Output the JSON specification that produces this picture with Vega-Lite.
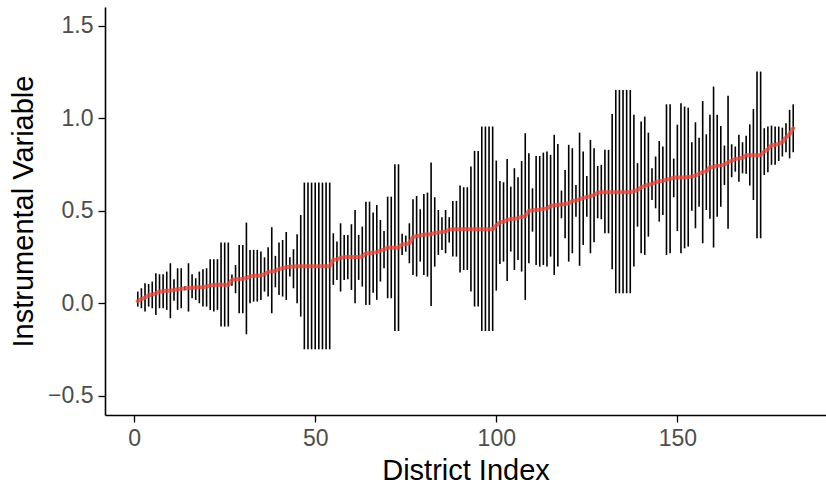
{
  "$schema": "https://vega.github.io/schema/vega-lite/v6.json",
  "width": 721,
  "height": 408,
  "autosize": {"type": "none"},
  "padding": {"left": 105, "top": 7, "right": 0, "bottom": 69},
  "background": "white",
  "config": {
    "font": "Liberation Sans",
    "view": {"stroke": null},
    "axis": {
      "grid": false,
      "domainColor": "black",
      "domainWidth": 1.6,
      "tickColor": "black",
      "tickWidth": 1.3,
      "tickSize": 7,
      "labelFont": "Liberation Sans",
      "labelFontSize": 23,
      "labelColor": "#4d4d4d",
      "titleFont": "Liberation Sans",
      "titleFontSize": 29,
      "titleFontWeight": "normal",
      "titleColor": "black"
    }
  },
  "data": {"values": [
    {"i":1,"c":0.012,"lo":-0.018,"hi":0.063},
    {"i":2,"c":0.022,"lo":-0.027,"hi":0.081},
    {"i":3,"c":0.031,"lo":-0.045,"hi":0.108},
    {"i":4,"c":0.042,"lo":-0.018,"hi":0.104},
    {"i":5,"c":0.047,"lo":-0.027,"hi":0.117},
    {"i":6,"c":0.053,"lo":-0.063,"hi":0.162},
    {"i":7,"c":0.062,"lo":-0.027,"hi":0.157},
    {"i":8,"c":0.065,"lo":-0.027,"hi":0.157},
    {"i":9,"c":0.067,"lo":-0.036,"hi":0.171},
    {"i":10,"c":0.069,"lo":-0.081,"hi":0.216},
    {"i":11,"c":0.072,"lo":0.014,"hi":0.13},
    {"i":12,"c":0.076,"lo":-0.036,"hi":0.189},
    {"i":13,"c":0.078,"lo":-0.027,"hi":0.189},
    {"i":14,"c":0.08,"lo":0.07,"hi":0.092},
    {"i":15,"c":0.082,"lo":-0.045,"hi":0.216},
    {"i":16,"c":0.084,"lo":0.027,"hi":0.157},
    {"i":17,"c":0.085,"lo":0.018,"hi":0.135},
    {"i":18,"c":0.086,"lo":0.0,"hi":0.171},
    {"i":19,"c":0.087,"lo":-0.018,"hi":0.184},
    {"i":20,"c":0.09,"lo":-0.018,"hi":0.189},
    {"i":21,"c":0.096,"lo":-0.036,"hi":0.238},
    {"i":22,"c":0.098,"lo":-0.045,"hi":0.238},
    {"i":23,"c":0.1,"lo":-0.036,"hi":0.238},
    {"i":24,"c":0.1,"lo":-0.126,"hi":0.328},
    {"i":25,"c":0.1,"lo":-0.126,"hi":0.328},
    {"i":26,"c":0.1,"lo":-0.126,"hi":0.328},
    {"i":27,"c":0.125,"lo":0.095,"hi":0.155},
    {"i":28,"c":0.13,"lo":0.054,"hi":0.207},
    {"i":29,"c":0.13,"lo":-0.054,"hi":0.315},
    {"i":30,"c":0.132,"lo":-0.054,"hi":0.315},
    {"i":31,"c":0.136,"lo":-0.168,"hi":0.436},
    {"i":32,"c":0.144,"lo":0.0,"hi":0.288},
    {"i":33,"c":0.148,"lo":0.009,"hi":0.288},
    {"i":34,"c":0.149,"lo":0.009,"hi":0.288},
    {"i":35,"c":0.15,"lo":0.018,"hi":0.279},
    {"i":36,"c":0.157,"lo":0.063,"hi":0.248},
    {"i":37,"c":0.168,"lo":0.036,"hi":0.302},
    {"i":38,"c":0.172,"lo":-0.054,"hi":0.411},
    {"i":39,"c":0.175,"lo":0.086,"hi":0.256},
    {"i":40,"c":0.185,"lo":0.045,"hi":0.328},
    {"i":41,"c":0.189,"lo":0.036,"hi":0.342},
    {"i":42,"c":0.195,"lo":0.018,"hi":0.385},
    {"i":43,"c":0.197,"lo":0.144,"hi":0.248},
    {"i":44,"c":0.198,"lo":0.081,"hi":0.292},
    {"i":45,"c":0.2,"lo":0.0,"hi":0.373},
    {"i":46,"c":0.2,"lo":-0.072,"hi":0.477},
    {"i":47,"c":0.2,"lo":-0.249,"hi":0.652},
    {"i":48,"c":0.2,"lo":-0.249,"hi":0.652},
    {"i":49,"c":0.2,"lo":-0.249,"hi":0.652},
    {"i":50,"c":0.2,"lo":-0.249,"hi":0.652},
    {"i":51,"c":0.2,"lo":-0.249,"hi":0.652},
    {"i":52,"c":0.2,"lo":-0.249,"hi":0.652},
    {"i":53,"c":0.2,"lo":-0.249,"hi":0.652},
    {"i":54,"c":0.2,"lo":-0.249,"hi":0.652},
    {"i":55,"c":0.235,"lo":0.099,"hi":0.378},
    {"i":56,"c":0.237,"lo":0.126,"hi":0.333},
    {"i":57,"c":0.245,"lo":0.063,"hi":0.432},
    {"i":58,"c":0.248,"lo":0.126,"hi":0.369},
    {"i":59,"c":0.25,"lo":0.13,"hi":0.369},
    {"i":60,"c":0.25,"lo":0.072,"hi":0.427},
    {"i":61,"c":0.25,"lo":0.0,"hi":0.504},
    {"i":62,"c":0.25,"lo":0.126,"hi":0.369},
    {"i":63,"c":0.252,"lo":0.09,"hi":0.414},
    {"i":64,"c":0.27,"lo":-0.009,"hi":0.549},
    {"i":65,"c":0.27,"lo":-0.009,"hi":0.549},
    {"i":66,"c":0.274,"lo":0.057,"hi":0.49},
    {"i":67,"c":0.276,"lo":0.018,"hi":0.531},
    {"i":68,"c":0.284,"lo":0.117,"hi":0.45},
    {"i":69,"c":0.29,"lo":0.189,"hi":0.391},
    {"i":70,"c":0.3,"lo":0.027,"hi":0.576},
    {"i":71,"c":0.3,"lo":0.027,"hi":0.576},
    {"i":72,"c":0.3,"lo":-0.15,"hi":0.751},
    {"i":73,"c":0.3,"lo":-0.15,"hi":0.751},
    {"i":74,"c":0.318,"lo":0.261,"hi":0.375},
    {"i":75,"c":0.32,"lo":0.279,"hi":0.366},
    {"i":76,"c":0.324,"lo":0.216,"hi":0.432},
    {"i":77,"c":0.358,"lo":0.153,"hi":0.562},
    {"i":78,"c":0.362,"lo":0.144,"hi":0.58},
    {"i":79,"c":0.366,"lo":0.225,"hi":0.508},
    {"i":80,"c":0.371,"lo":0.153,"hi":0.591},
    {"i":81,"c":0.372,"lo":0.144,"hi":0.598},
    {"i":82,"c":0.373,"lo":-0.015,"hi":0.76},
    {"i":83,"c":0.38,"lo":0.198,"hi":0.573},
    {"i":84,"c":0.383,"lo":0.261,"hi":0.504},
    {"i":85,"c":0.385,"lo":0.288,"hi":0.465},
    {"i":86,"c":0.388,"lo":0.27,"hi":0.504},
    {"i":87,"c":0.397,"lo":0.328,"hi":0.465},
    {"i":88,"c":0.4,"lo":0.252,"hi":0.553},
    {"i":89,"c":0.4,"lo":0.252,"hi":0.553},
    {"i":90,"c":0.4,"lo":0.166,"hi":0.636},
    {"i":91,"c":0.4,"lo":0.18,"hi":0.627},
    {"i":92,"c":0.4,"lo":0.18,"hi":0.627},
    {"i":93,"c":0.4,"lo":0.063,"hi":0.739},
    {"i":94,"c":0.4,"lo":-0.018,"hi":0.823},
    {"i":95,"c":0.4,"lo":-0.018,"hi":0.823},
    {"i":96,"c":0.4,"lo":-0.15,"hi":0.955},
    {"i":97,"c":0.4,"lo":-0.15,"hi":0.955},
    {"i":98,"c":0.4,"lo":-0.15,"hi":0.955},
    {"i":99,"c":0.4,"lo":-0.15,"hi":0.955},
    {"i":100,"c":0.42,"lo":0.068,"hi":0.771},
    {"i":101,"c":0.437,"lo":0.212,"hi":0.661},
    {"i":102,"c":0.44,"lo":0.225,"hi":0.654},
    {"i":103,"c":0.45,"lo":0.12,"hi":0.78},
    {"i":104,"c":0.455,"lo":0.279,"hi":0.63},
    {"i":105,"c":0.456,"lo":0.18,"hi":0.73},
    {"i":106,"c":0.46,"lo":0.234,"hi":0.681},
    {"i":107,"c":0.467,"lo":0.171,"hi":0.769},
    {"i":108,"c":0.47,"lo":0.018,"hi":0.919},
    {"i":109,"c":0.5,"lo":0.216,"hi":0.811},
    {"i":110,"c":0.503,"lo":0.387,"hi":0.621},
    {"i":111,"c":0.504,"lo":0.207,"hi":0.796},
    {"i":112,"c":0.505,"lo":0.198,"hi":0.796},
    {"i":113,"c":0.51,"lo":0.207,"hi":0.814},
    {"i":114,"c":0.512,"lo":0.198,"hi":0.82},
    {"i":115,"c":0.525,"lo":0.252,"hi":0.802},
    {"i":116,"c":0.53,"lo":0.153,"hi":0.91},
    {"i":117,"c":0.532,"lo":0.198,"hi":0.861},
    {"i":118,"c":0.534,"lo":0.459,"hi":0.609},
    {"i":119,"c":0.536,"lo":0.351,"hi":0.72},
    {"i":120,"c":0.54,"lo":0.225,"hi":0.856},
    {"i":121,"c":0.552,"lo":0.27,"hi":0.838},
    {"i":122,"c":0.555,"lo":0.468,"hi":0.639},
    {"i":123,"c":0.562,"lo":0.202,"hi":0.922},
    {"i":124,"c":0.568,"lo":0.315,"hi":0.82},
    {"i":125,"c":0.575,"lo":0.468,"hi":0.688},
    {"i":126,"c":0.578,"lo":0.27,"hi":0.883},
    {"i":127,"c":0.585,"lo":0.33,"hi":0.838},
    {"i":128,"c":0.597,"lo":0.459,"hi":0.742},
    {"i":129,"c":0.6,"lo":0.454,"hi":0.748},
    {"i":130,"c":0.6,"lo":0.378,"hi":0.829},
    {"i":131,"c":0.6,"lo":0.378,"hi":0.829},
    {"i":132,"c":0.6,"lo":0.184,"hi":1.023},
    {"i":133,"c":0.6,"lo":0.054,"hi":1.153},
    {"i":134,"c":0.6,"lo":0.054,"hi":1.153},
    {"i":135,"c":0.6,"lo":0.054,"hi":1.153},
    {"i":136,"c":0.6,"lo":0.054,"hi":1.153},
    {"i":137,"c":0.6,"lo":0.054,"hi":1.153},
    {"i":138,"c":0.605,"lo":0.198,"hi":1.018},
    {"i":139,"c":0.612,"lo":0.414,"hi":0.757},
    {"i":140,"c":0.625,"lo":0.27,"hi":0.982},
    {"i":141,"c":0.635,"lo":0.261,"hi":1.009},
    {"i":142,"c":0.641,"lo":0.36,"hi":0.922},
    {"i":143,"c":0.644,"lo":0.558,"hi":0.73},
    {"i":144,"c":0.653,"lo":0.513,"hi":0.793},
    {"i":145,"c":0.659,"lo":0.441,"hi":0.877},
    {"i":146,"c":0.662,"lo":0.477,"hi":0.847},
    {"i":147,"c":0.668,"lo":0.261,"hi":1.075},
    {"i":148,"c":0.672,"lo":0.27,"hi":1.075},
    {"i":149,"c":0.678,"lo":0.573,"hi":0.782},
    {"i":150,"c":0.68,"lo":0.39,"hi":0.965},
    {"i":151,"c":0.68,"lo":0.27,"hi":1.081},
    {"i":152,"c":0.68,"lo":0.297,"hi":1.063},
    {"i":153,"c":0.682,"lo":0.306,"hi":1.057},
    {"i":154,"c":0.685,"lo":0.5,"hi":0.87},
    {"i":155,"c":0.69,"lo":0.405,"hi":0.978},
    {"i":156,"c":0.7,"lo":0.522,"hi":0.895},
    {"i":157,"c":0.71,"lo":0.324,"hi":1.093},
    {"i":158,"c":0.712,"lo":0.504,"hi":0.913},
    {"i":159,"c":0.735,"lo":0.456,"hi":1.018},
    {"i":160,"c":0.737,"lo":0.301,"hi":1.171},
    {"i":161,"c":0.743,"lo":0.468,"hi":1.018},
    {"i":162,"c":0.745,"lo":0.522,"hi":0.958},
    {"i":163,"c":0.75,"lo":0.639,"hi":0.852},
    {"i":164,"c":0.762,"lo":0.402,"hi":1.122},
    {"i":165,"c":0.77,"lo":0.681,"hi":0.859},
    {"i":166,"c":0.779,"lo":0.711,"hi":0.847},
    {"i":167,"c":0.783,"lo":0.657,"hi":0.91},
    {"i":168,"c":0.786,"lo":0.702,"hi":0.87},
    {"i":169,"c":0.8,"lo":0.7,"hi":0.905},
    {"i":170,"c":0.8,"lo":0.636,"hi":0.967},
    {"i":171,"c":0.8,"lo":0.558,"hi":1.05},
    {"i":172,"c":0.8,"lo":0.351,"hi":1.252},
    {"i":173,"c":0.8,"lo":0.351,"hi":1.252},
    {"i":174,"c":0.82,"lo":0.693,"hi":0.946},
    {"i":175,"c":0.832,"lo":0.708,"hi":0.955},
    {"i":176,"c":0.854,"lo":0.748,"hi":0.96},
    {"i":177,"c":0.855,"lo":0.748,"hi":0.955},
    {"i":178,"c":0.862,"lo":0.769,"hi":0.955},
    {"i":179,"c":0.871,"lo":0.793,"hi":0.949},
    {"i":180,"c":0.895,"lo":0.816,"hi":0.973},
    {"i":181,"c":0.914,"lo":0.783,"hi":1.045},
    {"i":182,"c":0.946,"lo":0.816,"hi":1.075}
  ]},
  "encoding": {
    "x": {
      "field": "i",
      "type": "quantitative",
      "scale": {"domain": [-8.05, 191.05], "nice": false, "zero": false},
      "axis": {"values": [0, 50, 100, 150], "title": "District Index", "labelPadding": 5, "titlePadding": 6}
    }
  },
  "layer": [
    {
      "mark": {"type": "rule", "color": "black", "strokeWidth": 1.6},
      "encoding": {
        "y": {
          "field": "lo",
          "type": "quantitative",
          "scale": {"domain": [-0.604, 1.601], "nice": false, "zero": false},
          "axis": {"values": [-0.5, 0, 0.5, 1, 1.5], "format": ".1f", "title": "Instrumental Variable", "labelPadding": 5, "titlePadding": 9}
        },
        "y2": {"field": "hi"}
      }
    },
    {
      "mark": {"type": "line", "color": "#e8483c", "strokeWidth": 4, "opacity": 0.8, "strokeCap": "round"},
      "encoding": {
        "y": {"field": "c", "type": "quantitative"}
      }
    }
  ]
}
